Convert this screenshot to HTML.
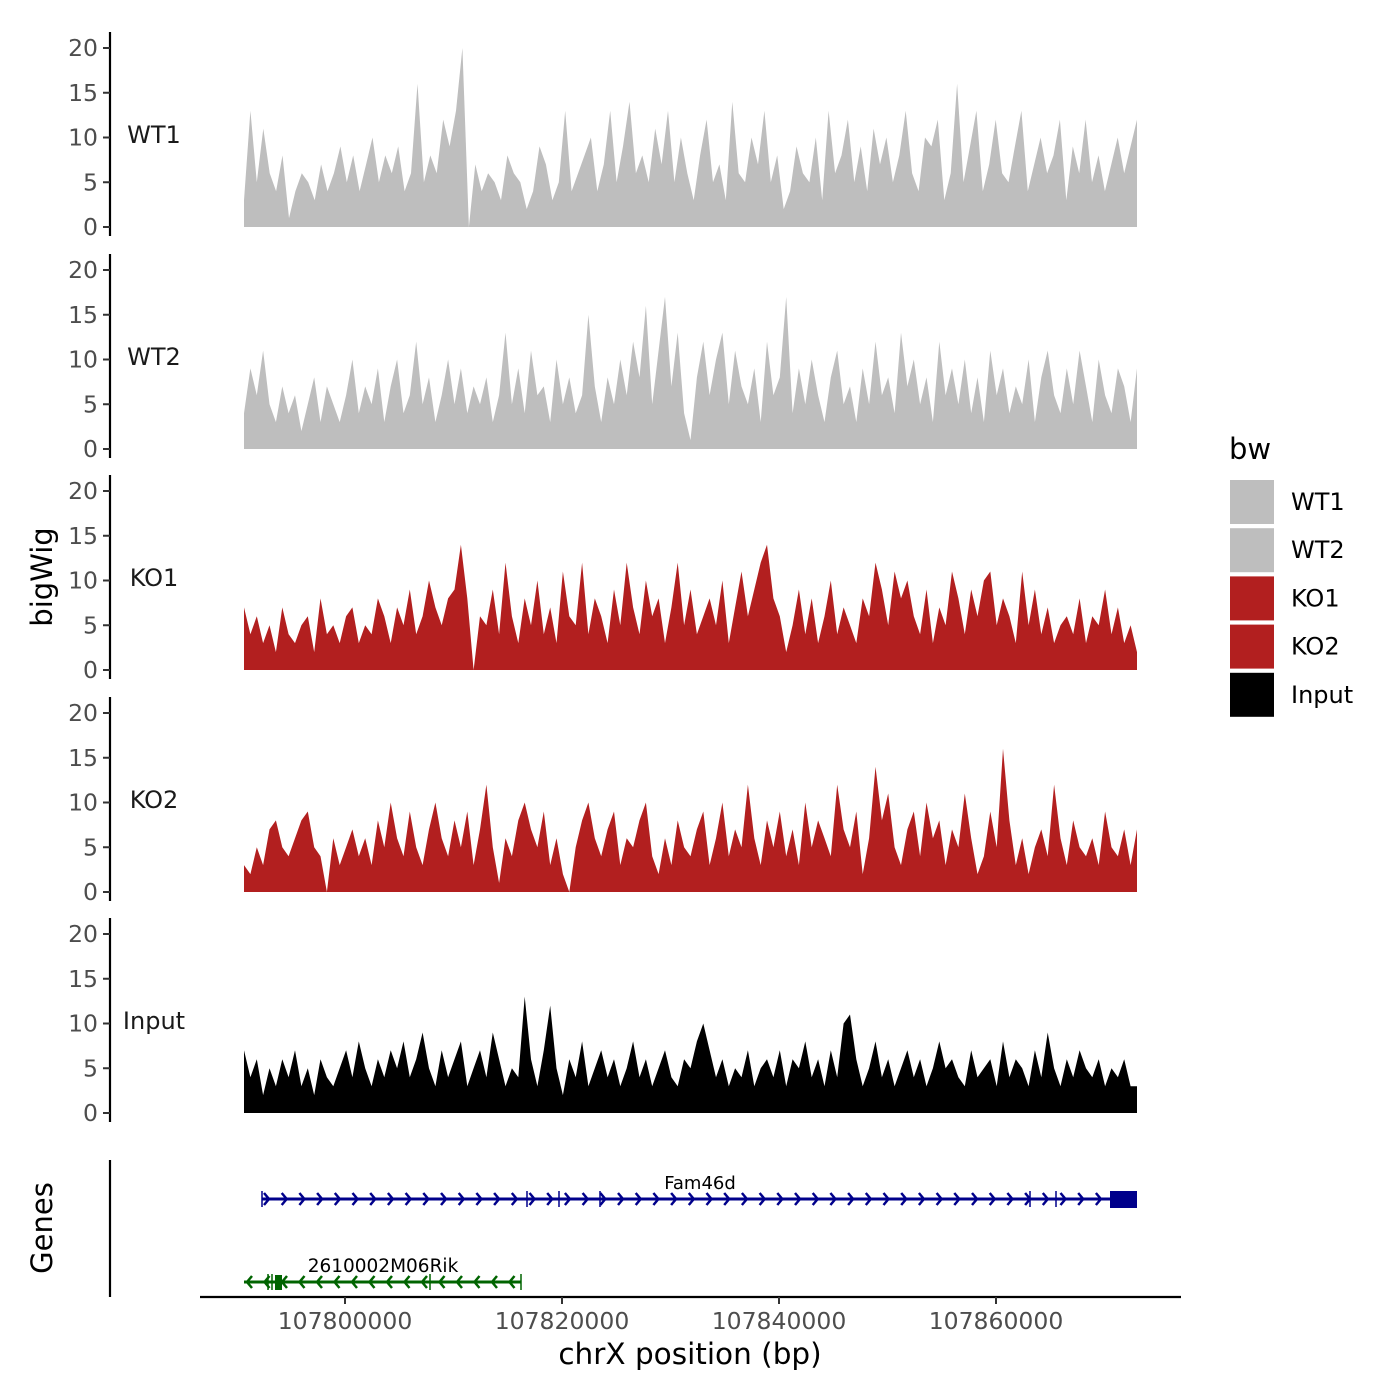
<!DOCTYPE html>
<html><head><meta charset="utf-8">
<style>
body{margin:0;background:#fff}
svg{display:block;font-family:"DejaVu Sans","Liberation Sans",sans-serif}
.tk{font-size:23.5px;fill:#4d4d4d}
</style></head>
<body>
<svg id="c" width="1400" height="1400" viewBox="0 0 1400 1400"></svg>
<script>
const trackNames=["WT1","WT2","KO1","KO2","Input"];
const trackColors=["#bebebe","#bebebe","#b21f1f","#b21f1f","#000000"];
const yTicks=[0,5,10,15,20];
const xTicks=[107800000,107820000,107840000,107860000];
const xTickLabels=["107800000","107820000","107840000","107860000"];
const wt1=[3,13,5,11,6,4,8,1,4,6,5,3,7,4,6,9,5,8,4,7,10,5,8,6,9,4,6,16,5,8,6,12,9,13,20,0,7,4,6,5,3,8,6,5,2,4,9,7,3,5,13,4,6,8,10,4,7,13,5,9,14,6,8,5,11,7,13,5,10,6,3,8,12,5,7,3,14,6,5,10,7,13,5,8,2,4,9,6,5,10,3,13,6,8,12,5,9,4,11,7,10,5,8,13,6,4,10,9,12,3,6,16,5,9,13,4,7,12,6,5,9,13,4,7,10,6,8,12,3,9,6,12,5,8,4,7,10,6,9,12];
const wt2=[4,9,6,11,5,3,7,4,6,2,5,8,3,7,5,3,6,10,4,7,5,9,3,7,10,4,6,12,5,8,3,6,10,5,9,4,7,5,8,3,6,13,5,9,4,11,6,7,3,10,5,8,4,6,15,7,3,8,5,10,6,12,8,16,5,11,17,7,13,4,1,8,12,6,10,13,5,11,7,5,9,3,12,6,8,17,4,9,5,10,6,3,8,11,5,7,3,9,5,12,6,8,4,13,7,10,5,8,3,12,6,9,5,10,4,8,3,11,6,9,4,7,5,10,3,8,11,6,4,9,5,11,7,3,10,6,4,9,7,3,9];
const ko1=[7,4,6,3,5,2,7,4,3,5,6,2,8,4,5,3,6,7,3,5,4,8,6,3,7,5,9,4,6,10,7,5,8,9,14,8,0,6,5,9,4,12,6,3,8,5,10,4,7,3,11,6,5,12,4,8,6,3,9,5,12,7,4,10,6,8,3,7,12,5,9,4,6,8,5,10,3,7,11,6,9,12,14,8,6,2,5,9,4,8,3,6,10,4,7,5,3,8,6,12,9,5,11,8,10,6,4,9,3,7,5,11,8,4,9,6,10,11,5,8,6,3,11,5,9,4,7,3,5,6,4,8,3,6,5,9,4,7,3,5,2];
const ko2=[3,2,5,3,7,8,5,4,6,8,9,5,4,0,6,3,5,7,4,6,3,8,5,10,6,4,9,5,3,7,10,6,4,8,5,9,3,7,12,5,1,6,4,8,10,7,5,9,3,6,2,0,5,8,10,6,4,7,9,3,6,5,8,10,4,2,6,3,8,5,4,7,9,3,6,10,4,7,5,12,6,3,8,5,9,4,7,3,10,5,8,6,4,12,7,5,9,2,6,14,8,11,5,3,7,9,4,10,6,8,3,7,5,11,6,2,4,9,5,16,8,3,6,2,5,7,4,12,6,3,8,5,4,6,3,9,5,4,7,3,7];
const input=[7,4,6,2,5,3,6,4,7,3,5,2,6,4,3,5,7,4,8,5,3,6,4,7,5,8,4,6,9,5,3,7,4,6,8,3,5,7,4,9,6,3,5,4,13,6,3,7,12,5,2,6,4,8,3,5,7,4,6,3,5,8,4,6,3,5,7,4,3,6,5,8,10,7,4,6,3,5,4,7,3,5,6,4,7,3,6,5,8,4,6,3,7,4,10,11,6,3,5,8,4,6,3,5,7,4,6,3,5,8,5,6,4,3,7,4,5,6,3,8,4,6,5,3,7,4,9,5,3,6,4,7,5,4,6,3,5,4,6,3,3];
const series=[wt1,wt2,ko1,ko2,input];
const xStart=107790691, xEnd=107872995;
const geneFam=[107792350,107872995];
const geneRik=[107790691,107816221];

const NS="http://www.w3.org/2000/svg";
const svg=document.getElementById('c');
function mk(t,a,p){const e=document.createElementNS(NS,t);for(const k in a)e.setAttribute(k,a[k]);(p||svg).appendChild(e);return e;}
const X0=244,X1=1137;
function xPos(bp){return X0+(bp-xStart)/(xEnd-xStart)*(X1-X0);}
function xIdx(i,n){return X0+i*(X1-X0)/(n-1);}
const bases=[227,449,670,892,1113];
const PX=8.95;
function yVal(v,p){return bases[p]-v*PX;}

series.forEach((s,p)=>{
  const g=mk('g',{});
  
  
  let d='M'+X0+','+bases[p];
  s.forEach((v,i)=>{d+=' L'+xIdx(i,s.length).toFixed(1)+','+yVal(v,p).toFixed(1);});
  d+=' L'+X1+','+bases[p]+' Z';
  const a=mk('path',{d:d,fill:trackColors[p]},g);
  
  
  const ax=mk('line',{x1:110,x2:110,y1:bases[p]-195,y2:bases[p]+9,stroke:'#000','stroke-width':2.2},g);
  
  
  yTicks.forEach(t=>{
    const y=yVal(t,p);
    mk('line',{x1:103,x2:110,y1:y,y2:y,stroke:'#333','stroke-width':2},g);
    const tx=mk('text',{x:98,y:y+8,'text-anchor':'end',class:'tk'},g);
    tx.textContent=t;
    
    
  });
  const lb=mk('text',{x:154,y:bases[p]-84,'text-anchor':'middle','font-size':24,fill:'#1a1a1a'},g);
  lb.textContent=trackNames[p];
  
  
});

const yt=mk('text',{transform:'translate(52,577) rotate(-90)','text-anchor':'middle','font-size':29,fill:'#000'});
yt.textContent='bigWig';


const gt=mk('text',{transform:'translate(52,1228) rotate(-90)','text-anchor':'middle','font-size':29,fill:'#000'});
gt.textContent='Genes';



mk('line',{x1:110,x2:110,y1:1160,y2:1297,stroke:'#000','stroke-width':2.2});
mk('line',{x1:200,x2:1181,y1:1297,y2:1297,stroke:'#000','stroke-width':2.2});
xTicks.forEach((t,i)=>{
  const x=xPos(t);
  mk('line',{x1:x,x2:x,y1:1297,y2:1304,stroke:'#333','stroke-width':2});
  const tx=mk('text',{x:x,y:1329,'text-anchor':'middle',class:'tk'});
  tx.textContent=xTickLabels[i];
  
  
});
const xt=mk('text',{x:690,y:1364,'text-anchor':'middle','font-size':29.5,fill:'#000'});
xt.textContent='chrX position (bp)';



const fg=mk('g',{});


const fx0=xPos(geneFam[0]),fx1=xPos(geneFam[1]);
const B='#00008b';
mk('line',{x1:fx0,x2:fx1,y1:1199,y2:1199,stroke:B,'stroke-width':3},fg);
for(let x=fx0+2;x<1108;x+=17.7){mk('path',{d:`M${x},1193 L${x+5},1199 L${x},1205`,fill:'none',stroke:B,'stroke-width':2.5},fg);}
[262,527,559,600,1030,1056].forEach(x=>mk('line',{x1:x,x2:x,y1:1191,y2:1207,stroke:B,'stroke-width':1.5},fg));
mk('rect',{x:1110,y:1191,width:fx1-1110,height:17,fill:B},fg);
const fl=mk('text',{x:700,y:1189,'text-anchor':'middle','font-size':18,fill:'#000'},fg);
fl.textContent='Fam46d';
const rg=mk('g',{});


const G='#006400';
const rx0=xPos(geneRik[0]),rx1=xPos(geneRik[1]);
mk('line',{x1:rx0,x2:rx1,y1:1282,y2:1282,stroke:G,'stroke-width':3},rg);
for(let x=247;x<rx1-4;x+=17.5){mk('path',{d:`M${x+5},1276 L${x},1282 L${x+5},1288`,fill:'none',stroke:G,'stroke-width':2.5},rg);}
[268,272,430,521].forEach(x=>mk('line',{x1:x,x2:x,y1:1274,y2:1290,stroke:G,'stroke-width':1.5},rg));
mk('rect',{x:275,y:1275,width:7,height:15,fill:G},rg);
const rl=mk('text',{x:383,y:1272,'text-anchor':'middle','font-size':18.5,fill:'#000'},rg);
rl.textContent='2610002M06Rik';

const lg=mk('g',{});


const lt=mk('text',{x:1229,y:459,'font-size':29,fill:'#000'},lg);
lt.textContent='bw';
trackNames.forEach((n,i)=>{
  const y=480+i*48.2;
  const r=mk('rect',{x:1230,y:y,width:44,height:44,fill:trackColors[i]},lg);
  
  
  const t=mk('text',{x:1291,y:y+30,'font-size':24,fill:'#000'},lg);
  t.textContent=n;
  
  
});
</script>
</body></html>
